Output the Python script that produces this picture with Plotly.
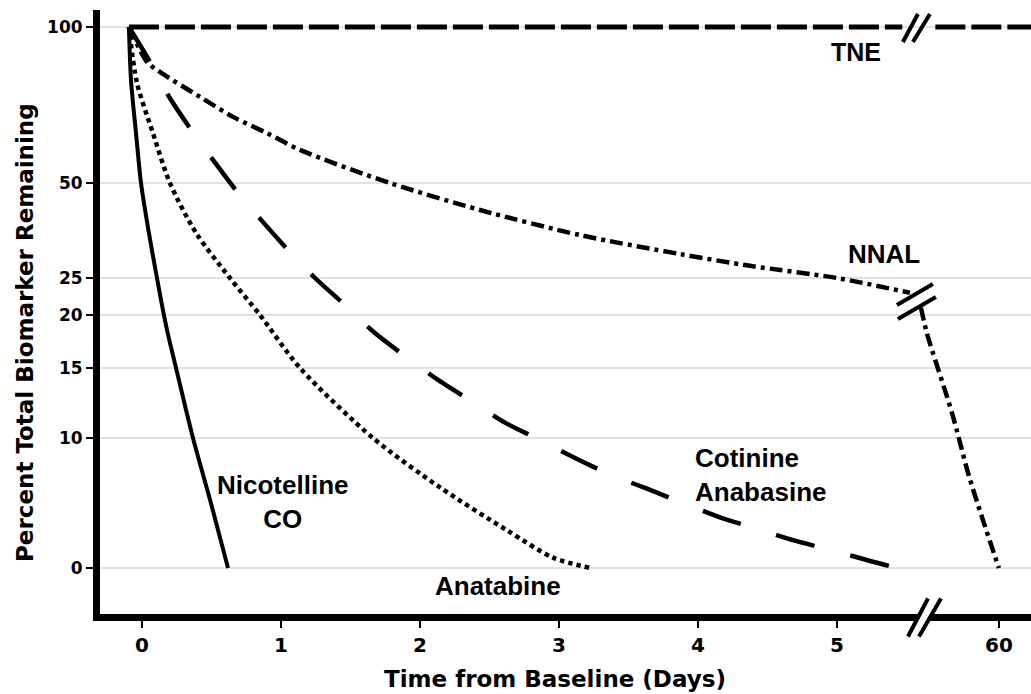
import numpy as np
import plotly.graph_objects as go

# ---------------- axis scales ----------------
Y_TICKS = [0, 10, 15, 20, 25, 50, 100]
Y_TICK_POS = [0, 130, 200, 253, 290, 385, 541]   # non-linear (stretched) percent scale
X_TICKS = [0, 1, 2, 3, 4, 5, 60]
X_BREAK = 5.6                                   # axis break (days)
X_AFTER = 0.565 / 54.4                          # compression after the break


def ypos(v):
    return np.interp(np.asarray(v, float), Y_TICKS, Y_TICK_POS)


def xpos(d):
    d = np.asarray(d, float)
    return np.where(d <= X_BREAK, d, X_BREAK + (d - X_BREAK) * X_AFTER)


# ---------------- data (days, percent remaining) ----------------
tne_days_a = [-0.094, 5.47]
tne_pct_a = [100, 100]
tne_days_b = [16, 90]
tne_pct_b = [100, 100]

nnal_days_a = [-0.094, 0.036, 0.129, 0.417, 0.655, 0.899, 1.137, 1.784, 2.432,
               3.151, 3.871, 4.374, 5.0, 5.525]
nnal_pct_a = [100, 88.8, 85.6, 77.6, 71.2, 66.0, 60.6, 50, 42.9,
              36.3, 31.3, 28.2, 25.0, 23.0]
nnal_days_b = [6.0, 10.1, 27.5, 40.0, 60.0]
nnal_pct_b = [21.0, 18.3, 11.8, 6.8, 0.0]

cot_days = [-0.094, 0.058, 0.187, 0.345, 0.511, 0.691, 0.871, 1.065, 1.245, 1.475,
            1.676, 1.906, 2.122, 2.374, 2.612, 2.863, 3.108, 3.367, 3.633, 3.892,
            4.158, 4.432, 4.698, 4.986, 5.252, 5.432]
cot_pct = [100, 88.8, 78.2, 67.6, 57.4, 47.4, 39.7, 31.8, 25.0, 21.1,
           18.3, 16.0, 14.2, 12.6, 11.1, 9.85, 8.5, 7.2, 6.1, 5.0,
           3.9, 3.0, 2.1, 1.3, 0.5, 0.0]

anat_days = [-0.094, -0.036, 0.079, 0.201, 0.39, 0.633, 0.849, 1.137, 1.662,
             2.144, 2.626, 2.957, 3.223]
anat_pct = [100, 82.1, 66.0, 50, 36.8, 25, 20, 15, 10,
            6.2, 2.9, 0.8, 0.0]

nico_days = [-0.094, -0.079, -0.043, -0.007, 0.050, 0.108, 0.144, 0.180, 0.245,
             0.367, 0.496, 0.619]
nico_pct = [100, 83.0, 66.0, 50, 36.8, 25, 21.35, 18.6, 15,
            10, 5.0, 0.0]

# ---------------- figure ----------------
W, H = 1031, 694
ML, MR, MT, MB = 100, 0, 10, 80
PW, PH = W - ML - MR, H - MT - MB


def px_x(px):
    return (px - ML) / PW


def px_y(py):
    return (H - MB - py) / PH


fig = go.Figure()


def add_line(days, pct, width, dash, shape="spline"):
    fig.add_trace(go.Scatter(
        x=xpos(days), y=ypos(pct), mode="lines",
        line=dict(color="black", width=width, dash=dash, shape=shape, smoothing=0.8),
        hoverinfo="skip", showlegend=False))


add_line(tne_days_a, tne_pct_a, 5, "30px,6px", "linear")
add_line(tne_days_b, tne_pct_b, 5, "30px,6px", "linear")
add_line(nnal_days_a, nnal_pct_a, 4.5, "13px,5px,4px,5px")
add_line(nnal_days_b, nnal_pct_b, 4.5, "13px,5px,4px,5px")
add_line(cot_days, cot_pct, 4.5, "40px,37px")
add_line(anat_days, anat_pct, 4.5, "4.5px,4px")
add_line(nico_days, nico_pct, 4, "solid")

# ---------------- break marks ----------------
shapes = []


def slash(xa, ya, yref, cx, cy, dx, dy, width=4, color="black"):
    shapes.append(dict(type="line", xref="x", yref=yref,
                       xsizemode="pixel", ysizemode="pixel",
                       xanchor=xa, yanchor=ya,
                       x0=cx - dx, x1=cx + dx, y0=cy - dy, y1=cy + dy,
                       line=dict(color=color, width=width), layer="above"))


AXIS_BREAK_X = 5.626
CURVE_BREAK_X = 5.568
# x-axis break
slash(AXIS_BREAK_X, 0, "paper", 0, -3.5, 4, 7, width=7, color="white")
slash(AXIS_BREAK_X, 0, "paper", -6, -3.5, 10, 19)
slash(AXIS_BREAK_X, 0, "paper", 6, -3.5, 11, 19)
# TNE break
slash(CURVE_BREAK_X, float(ypos(100)), "y", -5.5, -1, 7.5, 14)
slash(CURVE_BREAK_X, float(ypos(100)), "y", 5.5, -1, 8.5, 14)
# NNAL break
slash(CURVE_BREAK_X, float(ypos(21.9)), "y", -1, 6.5, 18, 10.5)
slash(CURVE_BREAK_X, float(ypos(21.9)), "y", 1, -7, 19, 11)

# ---------------- labels ----------------
LBL = dict(family="Liberation Sans, Arial, sans-serif", size=26, color="black")
ann = []


def label(text, px, py, xanchor="center", size=26):
    f = dict(LBL)
    f["size"] = size
    ann.append(dict(text=text, x=px_x(px), y=px_y(py), xref="paper", yref="paper",
                    xanchor=xanchor, yanchor="middle", showarrow=False,
                    align="left" if xanchor == "left" else "center", font=f))


label("<b>TNE</b>", 856, 52, size=25)
label("<b>NNAL</b>", 884, 254)
label("<b>Nicotelline</b><br><b>CO</b>", 282, 502)
label("<b>Cotinine</b><br><b>Anabasine</b>", 693, 475, xanchor="left")
label("<b>Anatabine</b>", 498, 586)

TITLE = dict(family="DejaVu Sans, Verdana, sans-serif", size=23, color="black")
ann.append(dict(text="<b>Time from Baseline (Days)</b>", x=px_x(555), y=px_y(679),
                xref="paper", yref="paper", showarrow=False,
                xanchor="center", yanchor="middle", font=TITLE))
ann.append(dict(text="<b>Percent Total Biomarker Remaining</b>", x=px_x(25), y=px_y(333),
                xref="paper", yref="paper", showarrow=False, textangle=-90,
                xanchor="center", yanchor="middle", font=TITLE))

TICKF = dict(family="DejaVu Sans, Verdana, sans-serif", color="black", weight="bold")

fig.update_layout(
    width=W, height=H,
    margin=dict(l=ML, r=MR, t=MT, b=MB, pad=0),
    paper_bgcolor="white", plot_bgcolor="white",
    shapes=shapes, annotations=ann,
    xaxis=dict(range=[-0.302, 6.396], tickvals=xpos(X_TICKS).tolist(),
               ticktext=[str(t) for t in X_TICKS],
               showline=True, linewidth=7, linecolor="black",
               ticks="outside", ticklen=7, tickwidth=2, tickcolor="black",
               showgrid=False, zeroline=False,
               tickfont=dict(TICKF, size=20)),
    yaxis=dict(range=[-46, 558], tickvals=ypos(Y_TICKS).tolist(),
               ticktext=[str(t) for t in Y_TICKS],
               showline=True, linewidth=7, linecolor="black",
               ticks="outside", ticklen=7, tickwidth=2, tickcolor="black",
               showgrid=True, gridcolor="#e2e2e2", gridwidth=1.5, zeroline=False,
               tickfont=dict(TICKF, size=17)),
)

fig.write_html("out.html", config={"displayModeBar": False},
               post_script="document.body.style.margin='0';document.body.style.overflow='hidden';")
